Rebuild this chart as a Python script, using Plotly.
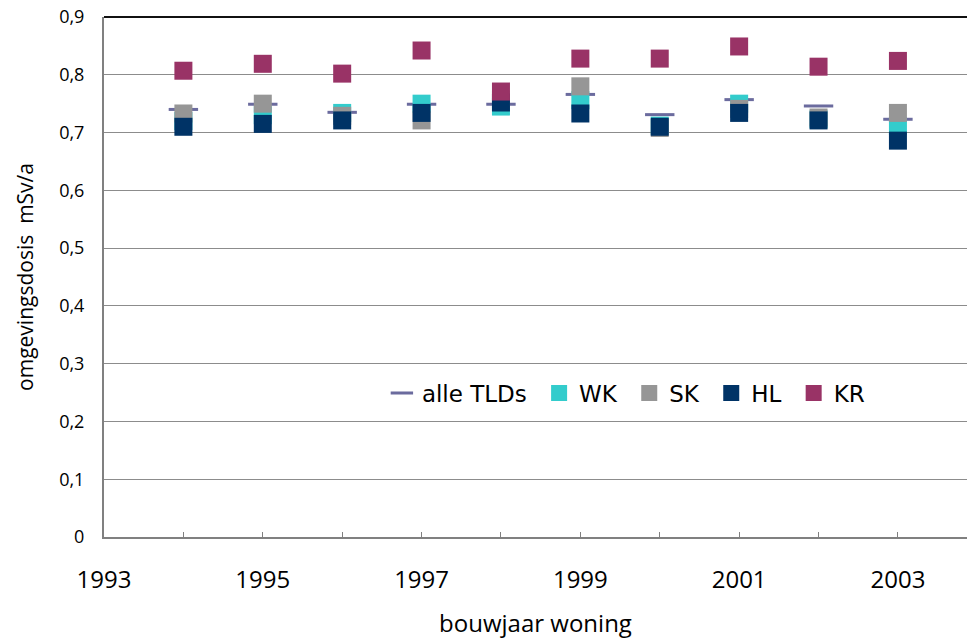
import plotly.graph_objects as go

years = [1994, 1995, 1996, 1997, 1998, 1999, 2000, 2001, 2002, 2003]
alle_tlds = [0.740, 0.749, 0.735, 0.749, 0.749, 0.766, 0.731, 0.757, 0.746, 0.723]
wk = [0.720, 0.730, 0.734, 0.750, 0.745, 0.756, 0.712, 0.750, 0.723, 0.711]
sk = [0.733, 0.750, 0.729, 0.721, 0.757, 0.780, 0.708, 0.741, 0.726, 0.734]
hl = [0.710, 0.715, 0.721, 0.734, 0.752, 0.733, 0.710, 0.734, 0.721, 0.686]
kr = [0.807, 0.819, 0.802, 0.842, 0.771, 0.828, 0.828, 0.849, 0.814, 0.824]

x_tick_vals = [1993, 1995, 1997, 1999, 2001, 2003]
x_tick_text = ["1993", "1995", "1997", "1999", "2001", "2003"]

FONT = "Open Sans"
LEG_FONT = "DejaVu Sans"
PAD = "\u00a0"  # small trailing gap between legend entries

fig = go.Figure()
fig.add_trace(go.Scatter(
    x=years, y=alle_tlds, mode="markers", name="alle TLDs" + PAD,
    marker=dict(symbol="line-ew", size=21, color="#6b6b9e",
                line=dict(color="#6b6b9e", width=3)),
))
series = [("WK", wk, "#33CCCC"), ("SK", sk, "#969696"),
          ("HL", hl, "#003366"), ("KR", kr, "#993366")]
for name, vals, col in series:
    fig.add_trace(go.Scatter(
        x=years, y=vals, mode="markers", name=name + PAD,
        marker=dict(symbol="square", size=18, color=col, line=dict(width=0)),
    ))

# white box behind legend hiding gridlines
fig.add_shape(type="rect", xref="paper", yref="paper",
              x0=0.3117, x1=0.890, y0=0.2135, y1=0.338,
              fillcolor="white", line=dict(width=0), layer="between")
# dark top border
fig.add_shape(type="line", xref="paper", yref="paper",
              x0=0, x1=1, y0=1, y1=1, line=dict(color="#111111", width=2))

fig.update_layout(
    width=967, height=639,
    margin=dict(l=104, r=0, t=17, b=102),
    paper_bgcolor="white", plot_bgcolor="white",
    separators=",.",
    font=dict(family=FONT, color="#000000"),
    showlegend=True,
    legend=dict(orientation="h", x=0.322, xanchor="left", y=0.277, yanchor="middle",
                bgcolor="rgba(255,255,255,0)", font=dict(size=23, family=LEG_FONT),
                itemsizing="trace"),
    xaxis=dict(range=[1993, 2003.87], tickvals=x_tick_vals, ticktext=x_tick_text,
               ticks="inside", ticklen=5, tickcolor="#808080", tickwidth=1,
               minor=dict(dtick=1, tick0=1993, ticks="inside", ticklen=5,
                          tickcolor="#808080", tickwidth=1, showgrid=False),
               showgrid=False, zeroline=False,
               showline=True, linecolor="#808080", linewidth=2,
               tickfont=dict(size=24, family=FONT), ticklabelstandoff=20,
               title=dict(text="bouwjaar woning", font=dict(size=24, family=FONT),
                          standoff=23)),
    yaxis=dict(range=[0, 0.9], dtick=0.1, tick0=0,
               showgrid=True, gridcolor="#8c8c8c", gridwidth=1,
               zeroline=False, showline=True, linecolor="#808080", linewidth=2,
               ticks="", tickfont=dict(size=18, family=FONT), ticklabelstandoff=14,
               title=dict(text="omgevingsdosis  mSv/a", font=dict(size=21, family=FONT),
                          standoff=20)),
)

fig.write_html("out.html")
